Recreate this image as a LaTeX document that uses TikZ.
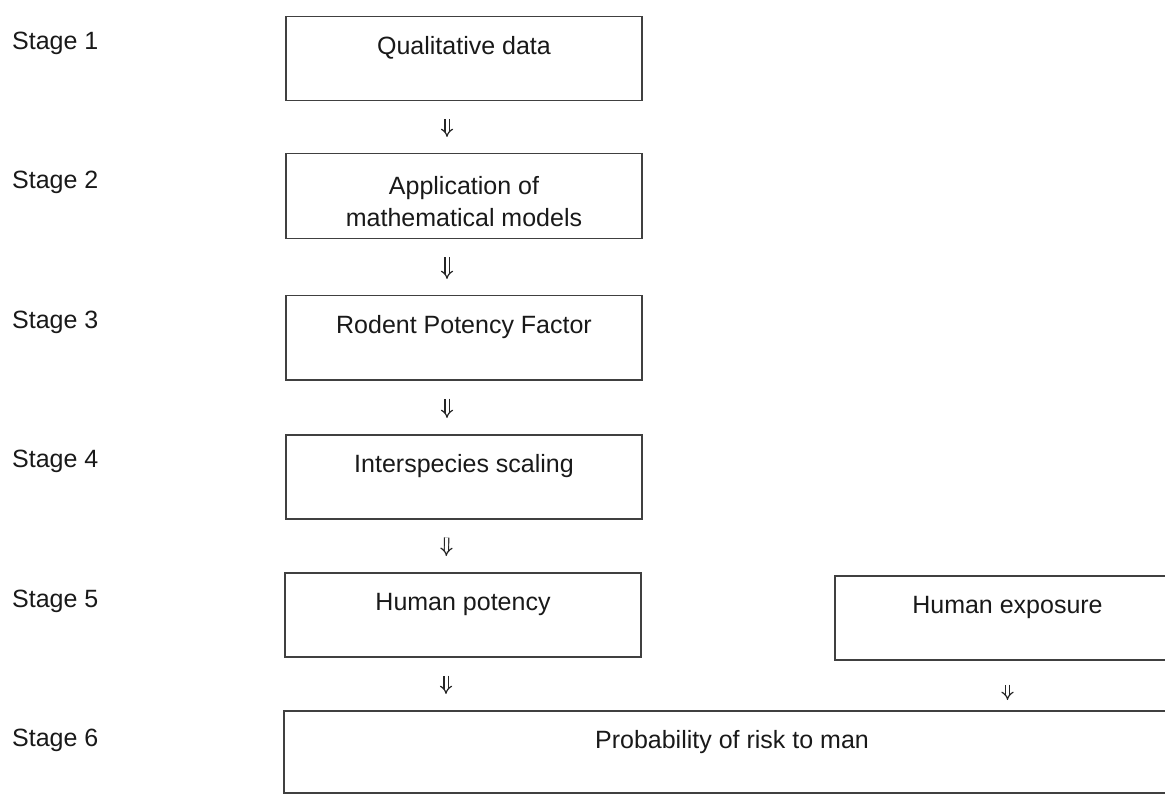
\documentclass[tikz,border=0pt]{standalone}
\usepackage{fontspec}
\setmainfont{Liberation Sans}
\usetikzlibrary{arrows.meta}

\tikzset{
	stage/.style={anchor=west, inner sep=0pt, text=black!90, font=\fontsize{25}{30}\selectfont},
	box/.style={draw=black!75, line width=1.5pt, anchor=north, minimum width=356pt, text=black!90, font=\fontsize{25}{30}\selectfont, inner ysep=20pt, text height=18pt, text depth=26pt},
	flow/.style={draw=black!85, double, double distance=3pt, line width=1.2pt, -{Implies}, shorten <=18pt, shorten >=16pt}
}

\begin{document}
\begin{tikzpicture}[x=1pt, y=-1pt]
	\useasboundingbox (0, 0) rectangle (1165, 794);

	\node[stage] (s1) at (12, 43) {Stage 1};
	\node[stage] (s2) at (12, 182) {Stage 2};
	\node[stage] (s3) at (12, 322) {Stage 3};
	\node[stage] (s4) at (12, 461) {Stage 4};
	\node[stage] (s5) at (12, 601) {Stage 5};
	\node[stage] (s6) at (12, 740) {Stage 6};

	\node[box, text height=61pt, text depth=0pt, minimum height=85pt, inner ysep=4pt, align=center, font=\fontsize{25}{32}\selectfont] (b2) at (464, 153) {Application of\\mathematical models};
	\node[box] (b1) at (464, 16) {Qualitative data};
	\node[box] (b3) at (464, 295) {Rodent Potency Factor};
	\node[box] (b4) at (464, 434) {Interspecies scaling};
	\node[box] (b5) at (463, 572) {Human potency};
	\node[box, minimum width=345pt] (ex) at (1007.5, 575) {Human exposure};
	\node[box, minimum width=896pt, text depth=24pt] (b6) at (732, 710) {Probability of risk to man};

	\draw[flow] ([xshift=-17pt]b1.south) -- ([xshift=-17pt]b2.north);
	\draw[flow] ([xshift=-17pt]b2.south) -- ([xshift=-17pt]b3.north);
	\draw[flow] ([xshift=-17pt]b3.south) -- ([xshift=-17pt]b4.north);
	\draw[flow] ([xshift=-17pt]b4.south) -- ([xshift=-17pt]b5.north);
	\draw[flow] ([xshift=-17pt]b5.south) -- ([xshift=-17pt]b5.south |- b6.north);
	\draw[flow, shorten <=24pt, shorten >=10pt] (ex.south) -- (ex.south |- b6.north);

\end{tikzpicture}
\end{document}
